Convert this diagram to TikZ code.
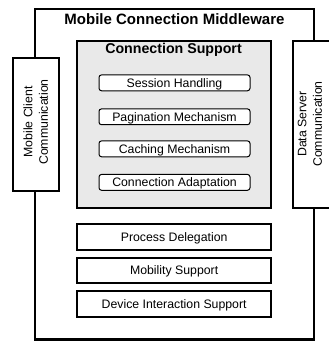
\documentclass[tikz,border=0pt]{standalone}
\usepackage{fontspec}
\setmainfont{Liberation Sans}
\begin{document}
\begin{tikzpicture}[x=1pt,y=-1pt,
  thickbox/.style={draw, line width=2pt, inner sep=0pt},
  lowbox/.style={thickbox, fill=white, minimum width=193.7pt, minimum height=25.7pt,
    font=\fontsize{12.3}{15}\selectfont, text height=8.8pt, text depth=0pt},
  itembox/.style={draw, line width=1pt, rounded corners=2.5pt, fill=white, inner sep=0pt,
    minimum width=151pt, minimum height=15.8pt,
    font=\fontsize{12.3}{15}\selectfont, text height=8.8pt, text depth=0pt},
  sidebox/.style={thickbox, fill=white},
  sidetext/.style={rotate=90, align=center, inner sep=0pt, font=\fontsize{12.3}{15.5}\selectfont},
  titletext/.style={anchor=base, inner sep=0pt, font=\bfseries\fontsize{#1}{#1}\selectfont}]
\useasboundingbox (0,0) rectangle (329,343);
% outer middleware box
\node[thickbox, line width=2.2pt, minimum width=279.6pt, minimum height=330.5pt] (mw) at (174.5,174.25) {};
\node[titletext=15] (mwtitle) at (174.5,24) {Mobile Connection Middleware};
% connection support
\node[thickbox, fill=gray!17, minimum width=193.7pt, minimum height=166.5pt] (cs) at (174.15,124.55) {};
\node[titletext=14.2] (cstitle) at (173.5,53.3) {Connection Support};
\node[itembox] (sh) at (174.5,82.85) {Session Handling};
\node[itembox] (pm) at (174.5,116.8) {Pagination Mechanism};
\node[itembox] (cm) at (174.5,148.85) {Caching Mechanism};
\node[itembox] (ca) at (174.5,182.35) {Connection Adaptation};
% lower boxes
\node[lowbox] (pd) at (174.15,237.15) {Process Delegation};
\node[lowbox] (ms) at (174.15,270.5) {Mobility Support};
\node[lowbox] (dis) at (174.15,303.85) {Device Interaction Support};
% side boxes
\node[sidebox, minimum width=46pt, minimum height=133.2pt] (mcc) at (36.3,124.4) {};
\node[sidetext] (mcctext) at (35.8,122) {Mobile Client\\Communication};
\node[sidebox, minimum width=46pt, minimum height=166.7pt] (dsc) at (315.7,124.35) {};
\node[sidetext] (dsctext) at (310,124) {Data Server\\Communication};
\end{tikzpicture}
\end{document}
